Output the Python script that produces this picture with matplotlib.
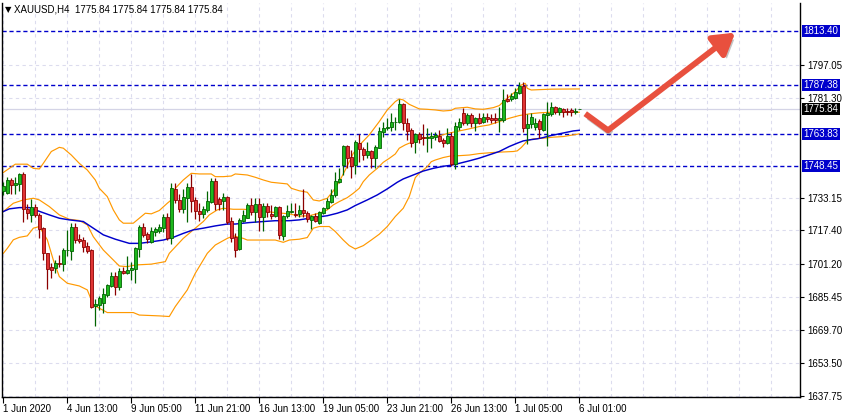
import matplotlib
matplotlib.use('Agg')
import matplotlib.pyplot as plt
import matplotlib.patheffects as pe
import matplotlib.transforms as mtransforms
import numpy as np

# ---------------- data (XAUUSD H4) ----------------
opens = [1736.6, 1735.3, 1741.7, 1739.5, 1739.8, 1744.6, 1727.8, 1724.9, 1728.6, 1724.9,
         1718.5, 1706.4, 1699.7, 1699.2, 1701.6, 1701.1, 1707.9, 1707.7, 1718.9, 1713.3,
         1712.9, 1710.0, 1708.0, 1681.1, 1681.3, 1682.7, 1686.2, 1690.7, 1695.7, 1690.4,
         1697.9, 1697.1, 1698.4, 1698.7, 1708.7, 1719.1, 1715.7,
         1712.0, 1716.9, 1717.3, 1718.5, 1724.1, 1713.6, 1737.4, 1732.1, 1727.6, 1733.2,
         1738.2, 1732.1, 1726.8, 1725.2, 1727.3, 1731.3, 1741.2, 1732.4, 1731.8, 1733.7,
         1722.0, 1714.1, 1708.3, 1722.1, 1723.6, 1729.7, 1726.5, 1730.2, 1724.1, 1729.2,
         1725.2, 1724.6, 1728.6, 1714.9, 1724.2, 1726.5, 1725.4, 1725.4,
         1727.3, 1725.7, 1722.5, 1724.4, 1720.9, 1725.7, 1728.1, 1731.3, 1734.5, 1740.9,
         1748.9, 1758.1, 1752.9, 1748.9, 1759.4, 1756.5, 1753.7, 1755.7, 1752.5, 1757.3,
         1765.0, 1766.6, 1767.4, 1769.5, 1769.5, 1778.1, 1769.0, 1765.8, 1759.8, 1763.7,
         1762.2, 1761.8, 1762.1, 1762.6, 1763.0, 1760.9, 1759.4,
         1762.9, 1749.3, 1767.4, 1774.1, 1769.0, 1773.0, 1769.0, 1771.7, 1769.5, 1772.2,
         1771.4, 1771.7, 1770.6, 1770.6, 1780.7, 1780.7, 1781.3, 1783.4, 1787.1, 1766.9,
         1768.5, 1767.4, 1770.1, 1765.8, 1773.0, 1773.3, 1776.7, 1774.3, 1775.9, 1774.9,
         1775.4, 1774.3, 1775.84]
highs = [1740.9, 1743.3, 1742.8, 1743.3, 1744.9, 1745.3, 1730.2, 1732.4, 1730.2, 1725.7,
         1719.3, 1706.8, 1701.6, 1703.2, 1705.6, 1708.8, 1717.7, 1721.2, 1720.9, 1715.7,
         1714.1, 1711.9, 1708.7, 1684.3, 1685.9, 1689.6, 1691.7, 1697.6, 1697.6, 1699.2,
         1699.7, 1705.1, 1702.4, 1709.6, 1720.1, 1720.9, 1716.9,
         1718.9, 1718.9, 1720.5, 1725.4, 1725.7, 1740.1, 1740.1, 1735.0, 1737.2, 1740.1,
         1744.6, 1733.7, 1730.5, 1729.2, 1736.6, 1742.5, 1742.5, 1733.7, 1735.3, 1734.0,
         1724.1, 1716.0, 1723.3, 1727.3, 1730.5, 1732.9, 1732.9, 1732.9, 1730.5, 1730.5,
         1729.7, 1729.2, 1729.2, 1724.9, 1729.7, 1730.5, 1730.8, 1729.7,
         1737.4, 1726.8, 1724.9, 1725.7, 1726.8, 1728.9, 1733.2, 1737.4, 1745.4, 1747.3,
         1758.6, 1758.6, 1756.2, 1760.9, 1763.7, 1757.8, 1760.2, 1756.2, 1758.6, 1767.4,
         1769.5, 1771.4, 1773.8, 1772.2, 1780.7, 1778.6, 1771.4, 1766.9, 1764.2, 1765.0,
         1768.5, 1766.6, 1765.0, 1765.0, 1765.8, 1761.8, 1766.9,
         1765.0, 1769.8, 1771.7, 1776.2, 1773.8, 1773.8, 1772.2, 1773.8, 1773.8, 1773.8,
         1773.3, 1773.8, 1777.0, 1785.5, 1782.9, 1783.4, 1785.8, 1789.0, 1788.7, 1773.3,
         1773.8, 1771.7, 1771.1, 1773.8, 1779.1, 1779.1, 1777.5, 1777.0, 1776.5, 1776.2,
         1776.5, 1776.2, 1775.84]
lows = [1734.5, 1735.0, 1735.0, 1735.0, 1736.6, 1721.7, 1722.8, 1721.7, 1723.8, 1713.7,
        1703.2, 1689.4, 1694.4, 1696.8, 1700.0, 1698.1, 1705.1, 1703.2, 1711.6, 1711.6,
        1707.1, 1706.8, 1680.0, 1671.5, 1679.2, 1677.6, 1685.6, 1690.4, 1686.4, 1688.8,
        1696.3, 1696.5, 1693.6, 1692.3, 1704.5, 1714.1, 1711.6,
        1711.6, 1714.8, 1716.0, 1716.9, 1712.8, 1710.9, 1730.8, 1726.5, 1725.7, 1721.7,
        1726.5, 1722.8, 1722.1, 1723.3, 1726.5, 1730.8, 1727.3, 1727.3, 1727.3, 1720.5,
        1712.0, 1704.8, 1708.0, 1721.7, 1723.3, 1724.9, 1721.7, 1717.3, 1717.3, 1724.1,
        1722.9, 1724.1, 1713.2, 1712.8, 1723.3, 1725.7, 1724.1, 1724.1,
        1724.1, 1721.3, 1718.1, 1721.3, 1720.4, 1725.2, 1727.8, 1730.5, 1733.7, 1740.1,
        1744.1, 1747.6, 1742.8, 1744.4, 1750.2, 1751.3, 1752.1, 1747.6, 1747.6, 1757.0,
        1762.6, 1765.8, 1765.3, 1765.8, 1769.0, 1765.8, 1760.9, 1757.8, 1754.5, 1759.4,
        1758.6, 1755.3, 1757.3, 1760.9, 1760.2, 1757.8, 1758.9,
        1748.2, 1747.0, 1765.8, 1768.2, 1768.2, 1767.4, 1765.3, 1768.5, 1769.0, 1769.5,
        1769.0, 1769.0, 1764.7, 1769.8, 1779.1, 1779.7, 1780.7, 1782.9, 1765.0, 1758.9,
        1766.6, 1765.8, 1761.8, 1765.3, 1758.2, 1772.7, 1773.3, 1773.0, 1772.2, 1773.0,
        1772.7, 1773.3, 1775.84]
closes = [1738.8, 1741.7, 1739.3, 1740.1, 1744.6, 1727.6, 1726.0, 1728.6, 1724.7, 1718.3,
          1706.4, 1699.1, 1698.4, 1701.6, 1701.1, 1708.0, 1708.2, 1718.9, 1712.9, 1712.5,
          1709.6, 1707.7, 1680.8, 1681.9, 1684.8, 1686.9, 1691.2, 1695.5, 1690.4, 1697.9,
          1696.8, 1698.4, 1699.5, 1709.2, 1719.1, 1715.2, 1713.5,
          1717.2, 1718.0, 1718.9, 1724.1, 1713.6, 1737.7, 1732.1, 1727.8, 1733.4, 1738.5,
          1731.8, 1727.0, 1725.2, 1727.6, 1731.6, 1741.2, 1730.2, 1730.2, 1733.4, 1721.7,
          1714.0, 1708.0, 1722.5, 1724.9, 1729.7, 1726.5, 1730.2, 1724.1, 1729.2, 1726.5,
          1724.6, 1728.6, 1715.2, 1724.4, 1726.8, 1726.8, 1724.9, 1727.3,
          1726.0, 1723.0, 1724.4, 1722.0, 1726.5, 1728.1, 1731.6, 1734.5, 1741.2, 1742.2,
          1758.1, 1752.5, 1748.6, 1759.8, 1756.5, 1753.7, 1755.7, 1752.5, 1757.8, 1765.3,
          1766.9, 1767.2, 1769.5, 1769.8, 1778.1, 1769.0, 1765.3, 1759.4, 1763.7, 1761.4,
          1761.8, 1762.6, 1762.9, 1763.4, 1760.5, 1759.4, 1762.9,
          1749.3, 1767.9, 1769.8, 1769.3, 1773.0, 1769.0, 1771.7, 1769.3, 1772.2, 1770.9,
          1770.6, 1770.6, 1771.4, 1780.2, 1779.7, 1782.3, 1783.9, 1787.1, 1766.9, 1768.5,
          1772.2, 1769.3, 1766.3, 1773.3, 1773.8, 1776.7, 1774.3, 1776.2, 1774.3, 1774.6,
          1774.3, 1774.9, 1775.84]

# Bollinger bands and moving average (bar index -> price)
bb_upper_idx = [0, 3, 6, 7.5, 9, 10, 12, 14, 15, 17, 19, 21, 23, 24, 26, 27.5, 29, 30, 32.5, 34, 35.5,
                37, 39, 41, 42, 43, 45, 47, 49, 52, 53, 55, 57, 58, 61, 63, 65, 67, 68, 71, 72, 74,
                76, 77.5, 79, 81, 82.5, 84, 85.5, 87.5, 89.5, 91.5, 94, 96, 98, 99, 100, 101.5, 104,
                106, 108, 110, 112, 113, 116, 118, 120, 122.5, 124, 125.5, 126.5, 128, 129.5, 130.5,
                131, 132, 137, 144]
bb_upper = [1745.3, 1749.3, 1749.3, 1747.3, 1747.0, 1749.7, 1755.4, 1757.4, 1757.0, 1753.7, 1749.7,
            1746.5, 1741.7, 1737.7, 1733.7, 1727.3, 1722.5, 1720.9, 1720.9, 1723.3, 1725.7,
            1725.4, 1727.0, 1730.5, 1732.1, 1737.7, 1741.7, 1744.9, 1744.6, 1744.6, 1743.3, 1743.3,
            1743.6, 1744.6, 1744.1, 1743.0, 1741.7, 1740.6, 1740.4, 1739.8, 1737.7, 1736.5,
            1735.8, 1732.1, 1731.6, 1732.9, 1736.4, 1740.9, 1746.5, 1754.5, 1759.4, 1763.4, 1769.8,
            1775.4, 1779.4, 1780.7, 1780.2, 1778.1, 1775.9, 1775.7, 1775.4, 1774.9, 1775.2,
            1776.2, 1776.7, 1775.9, 1775.7, 1776.5, 1777.5, 1780.2, 1781.8, 1784.2, 1787.4, 1788.2,
            1785.8, 1785.0, 1785.4, 1785.5]
bb_mid_idx = [0, 2.5, 5, 7.5, 9, 11.5, 14, 16.5, 19, 21, 22.5, 25, 27.5, 29, 31, 33, 37, 40.5, 41.5,
              45, 47.5, 50, 51.5, 53.5, 55, 57.5, 60, 62.5, 66, 68, 71.5, 74, 76.5, 79, 81, 82.5, 84,
              86, 87.5, 89, 90, 91.5, 93.5, 95, 96.5, 98, 99, 100.5, 101.5, 103, 104, 106, 107.5,
              109, 111.5, 114, 116.5, 119, 121.5, 124, 126.5, 129, 131.5, 134, 137, 144]
bb_mid = [1726.5, 1730.5, 1732.1, 1732.9, 1732.1, 1728.9, 1724.9, 1722.8, 1722.2, 1720.1, 1714.4,
          1708.0, 1703.2, 1700.3, 1700.0, 1700.8, 1701.2, 1702.4, 1706.4, 1713.6, 1717.7, 1721.7,
          1724.9, 1727.3, 1728.1, 1727.6, 1727.6, 1727.3, 1726.5, 1726.0, 1725.4, 1724.3, 1724.5,
          1725.7, 1727.3, 1729.7, 1731.3, 1733.2, 1735.3, 1737.7, 1740.9, 1744.1, 1747.3, 1750.2,
          1752.1, 1754.2, 1757.0, 1758.6, 1759.4, 1760.2, 1761.4, 1762.1, 1762.6, 1763.0, 1764.3,
          1765.3, 1766.3, 1767.4, 1768.2, 1769.8, 1771.4, 1772.7, 1773.5, 1774.0, 1774.3, 1774.3]
bb_lower_idx = [0, 1, 2.5, 4, 6, 7.5, 9, 11, 12.5, 14, 16, 19, 21, 22.5, 24, 26, 32.5, 34, 36.5, 39,
                41.5, 43, 46, 48, 51, 53, 56, 57.5, 60, 61, 64, 68, 70, 71.5, 74, 76, 77.5, 79, 81.5,
                83, 85, 86.5, 88, 90, 92, 94, 96, 98, 100, 101.5, 103, 104, 106, 107, 108, 110, 112,
                114, 116.5, 119, 123, 127.5, 128.5, 129.5, 130.5, 131, 132.5, 135, 137.5, 140, 142.5,
                144]
bb_lower = [1706.4, 1708.8, 1712.9, 1714.1, 1714.8, 1718.5, 1719.3, 1712.9, 1703.2, 1695.2, 1692.0,
            1690.7, 1688.8, 1681.6, 1680.0, 1677.9, 1677.9, 1676.7, 1676.5, 1676.3, 1676.0, 1680.8,
            1688.8, 1696.8, 1706.4, 1710.4, 1713.6, 1714.8, 1713.6, 1712.8, 1712.8, 1712.8, 1711.7,
            1712.8, 1713.2, 1714.0, 1718.5, 1719.3, 1719.3, 1716.9, 1712.8, 1710.1, 1708.5, 1710.1,
            1712.8, 1715.6, 1719.3, 1724.1, 1728.1, 1733.7, 1742.8, 1744.9, 1748.1, 1750.5, 1751.3,
            1752.5, 1753.3, 1753.4, 1753.7, 1754.4, 1755.0, 1755.4, 1755.7, 1757.3, 1759.4, 1760.5,
            1761.5, 1761.8, 1762.3, 1762.6, 1763.4, 1763.9]
ma_idx = [0, 1.5, 4, 6.5, 8, 11.5, 14, 16.5, 20, 22.5, 25, 28, 31.5, 34, 36.5, 40, 42.5, 45, 47.5, 50,
          53, 56, 58, 61.5, 65, 68, 71.5, 74, 77.5, 81, 83.5, 86, 88, 91, 93.5, 96, 98.5, 100, 102.5,
          105, 107.5, 110, 112, 114, 116.5, 119, 121.5, 124, 126.5, 128.5, 130, 131.5, 133.5, 135,
          136.5, 139, 141, 142.5, 144]
ma = [1726.5, 1727.8, 1728.4, 1728.4, 1727.3, 1724.9, 1723.3, 1722.5, 1721.7, 1718.5, 1715.3, 1713.2,
      1711.2, 1711.2, 1711.8, 1712.8, 1714.1, 1716.0, 1717.7, 1718.5, 1719.6, 1720.5, 1720.5, 1721.2,
      1721.7, 1722.1, 1722.1, 1722.5, 1723.6, 1724.5, 1725.7, 1727.3, 1729.4, 1732.1, 1734.5, 1737.4,
      1740.6, 1742.2, 1744.1, 1746.0, 1747.3, 1748.3, 1748.8, 1749.7, 1750.9, 1752.2, 1753.8, 1755.4,
      1757.8, 1759.4, 1760.5, 1761.0, 1761.5, 1762.1, 1762.9, 1763.9, 1764.7, 1765.3, 1765.6]

level_lines = [1813.40, 1787.38, 1763.83, 1748.45]
current_price = 1775.84
price_ticks = [1797.05, 1781.30, 1733.15, 1717.40, 1701.20, 1685.45, 1669.70, 1653.50, 1637.75]
time_tick_idx = [0, 16, 32, 48, 64, 80, 96, 112, 128, 144]
time_tick_labels = ['1 Jun 2020', '4 Jun 13:00', '9 Jun 05:00', '11 Jun 21:00', '16 Jun 13:00',
                    '19 Jun 05:00', '23 Jun 21:00', '26 Jun 13:00', '1 Jul 05:00', '6 Jul 01:00']
arrow_idx = [145.5, 151.2, 183.0]
arrow_price = [1773.6, 1765.6, 1812.6]
title = 'XAUUSD,H4  1775.84 1775.84 1775.84 1775.84'

# ---------------- figure ----------------
FONT = ['Liberation Sans', 'DejaVu Sans']
plt.rcParams['font.family'] = FONT
FS = 7.0
W, H = 846, 419
fig = plt.figure(figsize=(W / 100, H / 100), dpi=100)
fig.patch.set_facecolor('white')
ax = fig.add_axes([2 / W, 22 / H, 798 / W, 394.5 / H])
ax.set_facecolor('white')
ax.set_xlim(-0.33, 199.2)
ax.set_ylim(1637.27, 1827.1)

# grid
grid_col = '#dcdcee'
for gx in np.arange(0, 200, 8):
    ax.axvline(gx, color=grid_col, lw=0.8, dashes=(3, 3), zorder=0)
for gy in price_ticks:
    ax.axhline(gy, color=grid_col, lw=0.8, dashes=(3, 3), zorder=0)

# bid line
ax.axhline(current_price, color='#d4d4e6', lw=0.9, zorder=1)

# level lines
for lv in level_lines:
    ax.axhline(lv, color='#0000cc', lw=1.0, dashes=(3, 2), zorder=2)

# indicators
ax.plot(bb_upper_idx, bb_upper, color='#ff9900', lw=0.85, zorder=2)
ax.plot(bb_mid_idx, bb_mid, color='#ff9900', lw=0.85, zorder=2)
ax.plot(bb_lower_idx, bb_lower, color='#ff9900', lw=0.85, zorder=2)
ax.plot(ma_idx, ma, color='#0000cc', lw=1.05, zorder=2)

# candles
o = np.array(opens); h = np.array(highs); l = np.array(lows); c = np.array(closes)
idx = np.arange(len(o))
up = c >= o
wick_col = np.where(up, '#006400', '#8b0000')
ax.vlines(idx, l, h, colors=wick_col, lw=0.9, zorder=3)
body_bot = np.minimum(o, c)
body_h = np.maximum(np.abs(c - o), 0.25)
ax.bar(idx, body_h, bottom=body_bot, width=0.68,
       color=np.where(up, '#1db81d', '#e03434'),
       edgecolor=wick_col, linewidth=0.6, zorder=4)

# arrow with shadow
shadow = [pe.SimpleLineShadow(offset=(2.5, -2.5), shadow_color='#555555', alpha=0.35), pe.Normal()]
ax.plot(arrow_idx[:2], arrow_price[:2], color='#e8503e', lw=4.2, solid_capstyle='butt',
        zorder=6, path_effects=shadow)
ax.annotate('', xy=(arrow_idx[2], arrow_price[2]), xytext=(arrow_idx[1], arrow_price[1]),
            arrowprops=dict(arrowstyle='-|>,head_length=0.9,head_width=0.55', lw=4.2,
                            color='#e8503e', shrinkA=0, shrinkB=0, mutation_scale=14,
                            path_effects=[pe.withSimplePatchShadow(offset=(2.5, -2.5),
                                                                   shadow_rgbFace='#555555',
                                                                   alpha=0.35)]),
            zorder=6)

# spines
ax.spines['top'].set_visible(False)
for s in ['left', 'bottom', 'right']:
    ax.spines[s].set_color('black')
    ax.spines[s].set_linewidth(1.0)

# y axis on right
ax.yaxis.tick_right()
ax.set_yticks(price_ticks)
ax.set_yticklabels([f'{v:.2f}' for v in price_ticks])
ax.tick_params(axis='y', length=3, width=0.8, pad=2, labelsize=FS, colors='black')

# x axis
ax.set_xticks(time_tick_idx)
ax.set_xticklabels(time_tick_labels)
ax.tick_params(axis='x', length=4, width=0.8, pad=1.0, labelsize=FS, colors='black')
for lab in ax.get_xticklabels():
    lab.set_horizontalalignment('left')

# boxed price labels
trans = mtransforms.blended_transform_factory(ax.transAxes, ax.transData)
for lv in level_lines:
    ax.text(1.0045, lv, f'{lv:.2f}', transform=trans, ha='left', va='center', fontsize=FS,
            color='white', clip_on=False, zorder=10,
            bbox=dict(boxstyle='square,pad=0.12', fc='#0000cc', ec='none'))
ax.text(1.0045, current_price, f'{current_price:.2f}', transform=trans, ha='left', va='center',
        fontsize=FS, color='white', clip_on=False, zorder=10,
        bbox=dict(boxstyle='square,pad=0.12', fc='black', ec='none'))

# title
fig.text(5 / W, 1 - 10 / H, '\u25bc', fontsize=6, va='center', ha='left', color='black',
         family=['DejaVu Sans'])
fig.text(14 / W, 1 - 10 / H, title, fontsize=FS, va='center', ha='left', color='black')

fig.savefig('out.png', dpi=100, facecolor='white')
